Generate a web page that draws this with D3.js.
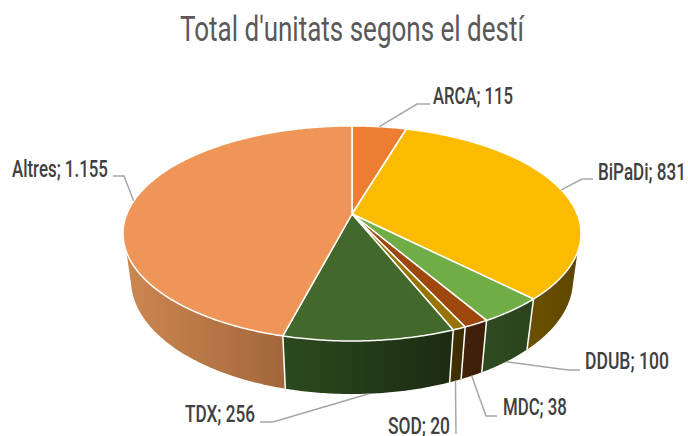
<!DOCTYPE html>
<html>
<head>
<meta charset="utf-8">
<script src="https://cdn.jsdelivr.net/npm/d3@7"></script>
<style>
  html, body { margin: 0; padding: 0; background: #fff; }
  text { font-family: "Roboto", sans-serif; font-weight: 500; }
</style>
</head>
<body>
<div id="vis"></div>
<script>

/* Data */
/* ---- */

var categories = ['ARCA', 'BiPaDi', 'DDUB', 'MDC', 'SOD', 'TDX', 'Altres'];
var values = [115, 831, 100, 38, 20, 256, 1155];
var valueLabels = ['115', '831', '100', '38', '20', '256', '1.155'];
var topColours = ['#ed7d31', '#fbbc00', '#70ad47', '#9e480e', '#997300', '#43682b', '#f09558'];
var sideStart = ['#8e4b1d', '#6b5000', '#2f4a20', '#43210a', '#423200', '#2b4a1f', '#cc8750'];
var sideEnd = ['#8e4b1d', '#5f4700', '#2a431c', '#3d1e08', '#3a2c00', '#1c2b11', '#a3663b'];

var width = 688, height = 436;

/* Perspective of the pie: a unit circle seen from above */
var proj = {
  cx: 352,
  top: { y: 214, a: 225.2, b: 104, k: 0.181 },
  bottom: { y: 259.5, a: 217.4, b: 110.3, k: 0.18 }
};
var deg = Math.PI / 180;
var wallLimits = { top: [110 * deg, 250 * deg], bottom: [103 * deg, 257 * deg] };

// label layout: baseline, measured width, elbow of each leader line
var labelLayout = {
  ARCA: { x: 433, y: 104, w: 80, face: 'top', elbow: [[417, 104], [430, 104]] },
  BiPaDi: { x: 598, y: 180, w: 88, face: 'top', elbow: [[582, 179], [593, 179]] },
  DDUB: { x: 585, y: 369, w: 84, face: 'bottom', elbow: [[568, 370], [580, 370]] },
  MDC: { x: 503, y: 415, w: 64, face: 'bottom', elbow: [[486, 416], [497, 416]] },
  SOD: { x: 388, y: 434, w: 62, face: 'bottom', elbow: [[456, 434]] },
  TDX: { x: 185, y: 422, w: 70, face: 'bottom', elbow: [[273, 422], [260, 422]] },
  Altres: { x: 12, y: 177, w: 96, face: 'top', elbow: [[124, 176], [113, 176]] }
};

/* Helpers */
/* ------- */

function project(angle, face) {
  var p = proj[face];
  var X = Math.sin(angle), Y = -Math.cos(angle);
  return [proj.cx + p.a * X / (1 - p.k * Y), p.y + p.b * Y / (1 - p.k * Y)];
} // project()

function arcPoints(a0, a1, face) {
  var n = Math.max(2, Math.ceil((a1 - a0) / 0.01));
  return d3.range(n + 1).map(function(i) { return project(a0 + (a1 - a0) * i / n, face); });
} // arcPoints()

// squeeze a text to a measured width (the original face is a condensed one)
function fitText(sel, x, y, w) {
  var len = sel.node().getComputedTextLength();
  sel.attr('transform', 'translate(' + x + ',' + y + ') scale(' + (w / len) + ',1)');
} // fitText()

function wallPoints(d, face) {
  var lim = wallLimits[face];
  return arcPoints(Math.max(d.startAngle, lim[0]), Math.min(d.endAngle, lim[1]), face);
} // wallPoints()

var line = d3.line();

/* Setup */
/* ----- */

var svg = d3.select('#vis').append('svg')
  .attr('width', width)
  .attr('height', height)
  .style('display', 'block');

var colour = d3.scaleOrdinal().domain(categories).range(topColours);
var colourA = d3.scaleOrdinal().domain(categories).range(sideStart);
var colourB = d3.scaleOrdinal().domain(categories).range(sideEnd);

var slices = d3.pie().sort(null).value(function(d) { return d.value; })(
  categories.map(function(c, i) { return { name: c, value: values[i], label: valueLabels[i] }; })
);

/* Title */
svg.append('text')
  .attr('font-size', 36)
  .attr('font-weight', 400)
  .style('font-weight', 400)
  .attr('fill', '#595959')
  .text("Total d'unitats segons el destí")
  .call(fitText, 180, 41, 344);

/* Side walls: only the part facing the viewer */
var defs = svg.append('defs');
var walls = svg.append('g');

var wallSlices = slices.filter(function(d) {
  return d.endAngle > wallLimits.bottom[0] && d.startAngle < wallLimits.bottom[1];
});

wallSlices.forEach(function(d, i) {
  var up = wallPoints(d, 'top');
  var down = wallPoints(d, 'bottom').reverse();
  var xs = d3.extent(up.concat(down), function(p) { return p[0]; });
  var id = 'side-' + i;
  var grad = defs.append('linearGradient').attr('id', id)
    .attr('gradientUnits', 'userSpaceOnUse')
    .attr('x1', xs[0]).attr('x2', xs[1]).attr('y1', 0).attr('y2', 0);
  grad.append('stop').attr('offset', 0).attr('stop-color', colourA(d.data.name));
  grad.append('stop').attr('offset', 1).attr('stop-color', colourB(d.data.name));

  walls.append('path')
    .attr('d', line(up.concat(down)) + 'Z')
    .attr('fill', 'url(#' + id + ')');
});

// white seams between the wall panels
walls.selectAll('line')
  .data(wallSlices.filter(function(d) { return d.startAngle > wallLimits.top[0]; }))
  .join('line')
  .attr('x1', function(d) { return project(d.startAngle, 'top')[0]; })
  .attr('y1', function(d) { return project(d.startAngle, 'top')[1]; })
  .attr('x2', function(d) { return project(d.startAngle, 'bottom')[0]; })
  .attr('y2', function(d) { return project(d.startAngle, 'bottom')[1]; })
  .attr('stroke', '#fff')
  .attr('stroke-width', 1.5);

/* Top face */
svg.append('g').selectAll('path')
  .data(slices)
  .join('path')
  .attr('d', function(d) {
    return line([[proj.cx, proj.top.y]].concat(arcPoints(d.startAngle, d.endAngle, 'top'))) + 'Z';
  })
  .attr('fill', function(d) { return colour(d.data.name); })
  .attr('stroke', '#fff')
  .attr('stroke-width', 1.5)
  .attr('stroke-linejoin', 'round');

/* Leader lines + labels */
var labels = svg.append('g');

slices.forEach(function(d) {
  var l = labelLayout[d.data.name];
  var start = project((d.startAngle + d.endAngle) / 2, l.face);
  labels.append('path')
    .attr('d', line([start].concat(l.elbow)))
    .attr('fill', 'none')
    .attr('stroke', '#a6a6a6')
    .attr('stroke-width', 1.5);
  labels.append('text')
    .attr('font-size', 23)
    .attr('fill', '#404040')
    .text(d.data.name + '; ' + d.data.label)
    .call(fitText, l.x, l.y, l.w);
});

</script>
</body>
</html>
